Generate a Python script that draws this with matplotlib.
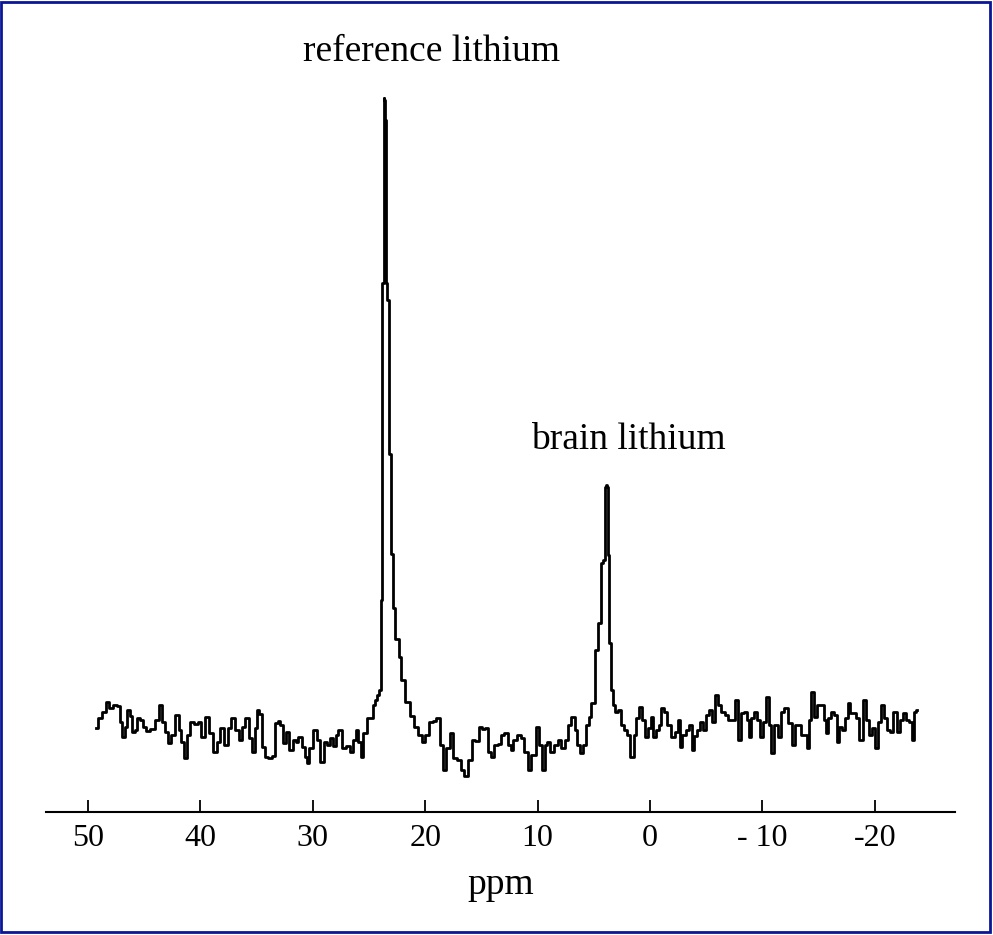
import matplotlib.pyplot as plt
from matplotlib.patches import Rectangle

# chemical shift (ppm) and signal intensity (arbitrary units)
ppm = [49.29, 48.93, 48.58, 48.31, 48.04, 47.60, 47.24, 47.06, 46.89, 46.62,
       46.44, 46.18, 46.00, 45.73, 45.55, 45.28, 45.02, 44.66, 44.31, 43.86,
       43.51, 43.24, 43.06, 42.79, 42.53, 42.08, 41.82, 41.55, 41.37, 41.10,
       40.75, 40.39, 40.12, 39.77, 39.41, 39.06, 38.70, 38.35, 38.08, 37.72,
       37.46, 37.10, 36.74, 36.48, 36.21, 35.85, 35.59, 35.32, 35.05, 34.88,
       34.70, 34.43, 34.16, 33.81, 33.54, 33.27, 33.01, 32.74, 32.56, 32.21,
       31.94, 31.67, 31.41, 31.14, 30.87, 30.60, 30.43, 30.16, 29.80, 29.54,
       29.18, 28.91, 28.65, 28.38, 28.11, 27.85, 27.58, 27.22, 26.87, 26.60,
       26.33, 26.07, 25.80, 25.62, 25.36, 25.00, 24.73, 24.56, 24.38, 24.20,
       24.02, 23.89, 23.84, 23.75, 23.67, 23.58, 23.49, 23.40, 23.31, 23.13,
       22.95, 22.78, 22.51, 22.24, 21.98, 21.62, 21.17, 20.82, 20.46, 20.11,
       19.84, 19.48, 19.13, 18.86, 18.59, 18.24, 17.97, 17.62, 17.35, 16.99,
       16.64, 16.37, 16.01, 15.66, 15.39, 15.12, 14.77, 14.50, 14.24, 14.06,
       13.70, 13.35, 13.08, 12.81, 12.54, 12.28, 12.01, 11.57, 11.30, 11.03,
       10.68, 10.41, 9.96, 9.70, 9.43, 9.25, 8.99, 8.72, 8.36, 8.01,
       7.74, 7.38, 7.12, 6.85, 6.58, 6.32, 6.05, 5.78, 5.52, 5.34,
       5.07, 4.72, 4.45, 4.27, 4.09, 4.00, 3.83, 3.74, 3.65, 3.56,
       3.38, 3.20, 2.94, 2.67, 2.40, 2.14, 1.87, 1.60, 1.33, 1.07,
       0.89, 0.53, 0.27, 0.00, -0.18, -0.44, -0.71, -0.89, -1.16, -1.42,
       -1.69, -2.05, -2.40, -2.58, -2.76, -3.02, -3.38, -3.56, -3.83, -4.09,
       -4.36, -4.63, -4.89, -5.16, -5.43, -5.69, -5.96, -6.23, -6.49, -6.85,
       -7.12, -7.38, -7.74, -8.01, -8.27, -8.54, -8.72, -8.90, -9.16, -9.43,
       -9.70, -9.96, -10.23, -10.50, -10.68, -10.94, -11.21, -11.57, -11.83, -12.10,
       -12.46, -12.81, -13.08, -13.35, -13.61, -13.88, -14.06, -14.24, -14.50, -14.77,
       -15.04, -15.39, -15.57, -15.75, -16.01, -16.28, -16.55, -16.73, -16.99, -17.26,
       -17.53, -17.70, -17.97, -18.24, -18.51, -18.77, -19.13, -19.40, -19.66, -19.93,
       -20.20, -20.46, -20.73, -21.00, -21.26, -21.53, -21.80, -22.15, -22.42, -22.69,
       -22.95, -23.22, -23.40, -23.58, -23.75]

signal = [72, 82, 88, 98, 92, 95, 94, 78, 63, 73,
          90, 84, 68, 70, 82, 80, 73, 69, 71, 80,
          95, 78, 68, 57, 65, 85, 70, 58, 42, 65,
          78, 76, 78, 63, 83, 67, 48, 58, 72, 55,
          72, 82, 70, 60, 73, 82, 62, 48, 72, 90,
          86, 53, 43, 42, 44, 77, 79, 75, 57, 68,
          50, 60, 58, 63, 53, 43, 37, 52, 70, 60,
          38, 58, 55, 62, 54, 65, 70, 52, 54, 48,
          60, 70, 58, 43, 67, 82, 82, 95, 100, 105,
          110, 200, 517, 517, 702, 700, 680, 517, 500, 346,
          246, 192, 161, 143, 120, 98, 84, 73, 65, 58,
          65, 78, 79, 82, 55, 30, 52, 67, 42, 40,
          30, 24, 40, 60, 59, 73, 71, 72, 48, 43,
          55, 56, 65, 67, 55, 50, 60, 65, 62, 48,
          30, 45, 73, 55, 30, 55, 58, 48, 55, 60,
          52, 60, 75, 83, 70, 55, 47, 55, 75, 83,
          97, 150, 177, 237, 240, 313, 315, 313, 245, 157,
          110, 95, 88, 90, 75, 70, 65, 43, 65, 82,
          93, 80, 63, 72, 83, 63, 70, 75, 92, 88,
          75, 63, 68, 80, 53, 65, 70, 75, 50, 64,
          70, 78, 70, 85, 90, 78, 105, 95, 88, 85,
          80, 80, 100, 60, 87, 88, 80, 63, 82, 88,
          80, 63, 78, 103, 75, 47, 75, 63, 88, 92,
          77, 55, 75, 75, 65, 65, 52, 80, 108, 83,
          95, 95, 80, 67, 82, 88, 85, 58, 73, 70,
          82, 97, 87, 87, 82, 60, 100, 80, 65, 72,
          52, 78, 95, 82, 70, 68, 88, 68, 80, 87,
          80, 78, 60, 88, 90]

xticks = [50, 40, 30, 20, 10, 0, -10, -20]
xtick_labels = ['50', '40', '30', '20', '10', '0', '- 10', '-20']

plt.rcParams['font.family'] = ['Liberation Serif', 'DejaVu Serif']

fig = plt.figure(figsize=(9.93, 9.35), dpi=100)
ax = fig.add_axes([46 / 993, 1 - 812 / 935, 909 / 993, 732 / 935])

ax.plot(ppm, signal, color='black', linewidth=2.0, drawstyle='steps-mid')

ax.set_xlim(53.74, -27.14)
ax.set_ylim(-12, 720)

for side in ['top', 'left', 'right']:
    ax.spines[side].set_visible(False)
ax.spines['bottom'].set_linewidth(1.5)
ax.set_yticks([])
ax.set_xticks(xticks)
ax.set_xticklabels(xtick_labels)
ax.tick_params(axis='x', direction='in', length=9, width=1.3, pad=9,
               labelsize=23)
ax.set_xlabel('ppm', fontsize=27, labelpad=10)

ax.text(19.4, 748, 'reference lithium', fontsize=27, ha='center', va='center')
ax.text(1.96, 360, 'brain lithium', fontsize=27, ha='center', va='center')

# blue frame around the picture
fig.patches.append(Rectangle((1 / 993, 3 / 935), 989 / 993, 930 / 935,
                             transform=fig.transFigure, fill=False,
                             edgecolor='#0a1696', linewidth=2))

fig.savefig('out.png', dpi=100)
